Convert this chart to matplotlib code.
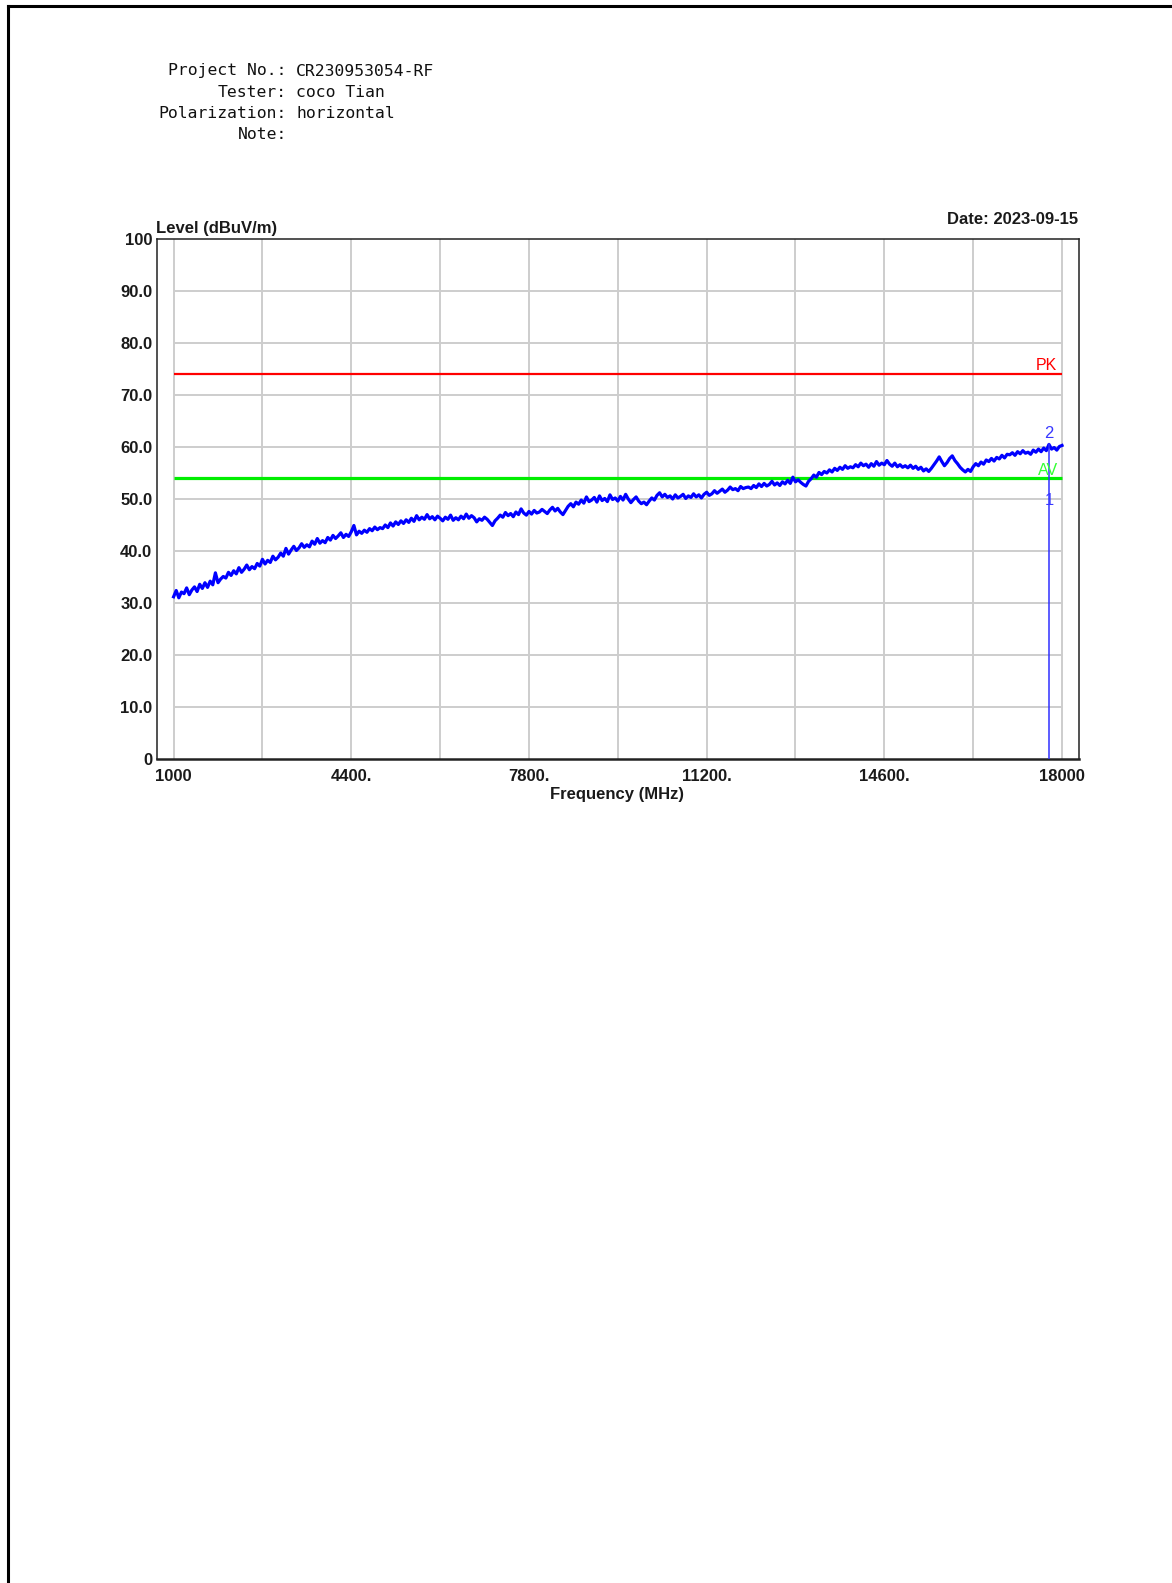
import matplotlib
matplotlib.use("Agg")
import matplotlib.pyplot as plt
from matplotlib.lines import Line2D
import numpy as np

W, H = 1172, 1583

# header info
header_keys = ["Project No.:", "Tester:", "Polarization:", "Note:"]
header_vals = ["CR230953054-RF", "coco Tian", "horizontal", ""]
date_text = "Date: 2023-09-15"

# sweep: 1000 .. 18000 MHz, one reading every 50 MHz
f_start, f_stop, f_step = 1000, 18000, 50
level = [
    31.2, 32.4, 31.0, 32.1, 31.8, 32.9, 31.6, 32.5, 33.1, 32.2, 33.6, 32.8, 33.9, 33.0, 34.2, 33.5, 35.8, 33.9, 34.6, 35.1,
    34.8, 35.9, 35.3, 36.2, 35.6, 36.8, 35.9, 36.5, 37.3, 36.4, 37.0, 36.6, 37.6, 37.1, 38.4, 37.5, 38.2, 37.8, 39.0, 38.3,
    38.8, 39.6, 39.0, 40.5, 39.4, 40.2, 40.9, 40.1, 40.6, 41.4, 40.7, 41.2, 40.8, 41.9, 41.3, 42.4, 41.5, 42.0, 41.6, 42.6,
    42.1, 43.0, 42.4, 42.9, 43.5, 42.6, 43.2, 42.8, 43.7, 44.9, 43.1, 43.8, 43.4, 44.0, 43.6, 44.3, 43.9, 44.6, 44.1, 44.5,
    44.3, 45.0, 44.5, 45.4, 44.8, 45.6, 45.1, 45.8, 45.3, 46.0, 45.5, 46.3, 45.7, 46.8, 46.0, 46.5, 46.1, 47.0, 46.2, 46.6,
    46.0, 46.7, 46.3, 45.8, 46.5, 46.1, 46.9, 45.9, 46.4, 46.0, 46.7, 46.2, 47.1, 46.3, 46.8, 46.4, 45.6, 46.2, 45.9, 46.5,
    46.1, 45.5, 44.9, 45.8, 46.3, 46.9, 46.5, 47.4, 46.8, 47.2, 46.6, 47.5, 47.0, 48.1, 47.3, 46.9, 47.6, 47.1, 47.8, 47.3,
    47.5, 48.0, 47.6, 47.2, 47.9, 48.4, 47.7, 48.2, 47.5, 47.0, 47.8, 48.6, 49.1, 48.5, 49.4, 49.0, 49.8, 49.2, 50.4, 49.5,
    49.8, 50.3, 49.4, 50.6, 49.7, 50.1, 49.5, 50.8, 49.9, 50.2, 49.6, 50.5, 49.8, 50.9, 50.0, 49.3, 49.9, 50.4, 49.6, 49.1,
    49.4, 48.9, 49.6, 50.2, 49.8, 50.7, 51.2, 50.4, 50.9, 50.3, 50.6, 50.0, 50.8, 50.2, 50.5, 50.9, 50.1, 50.6, 50.3, 51.0,
    50.4, 50.8, 50.2, 50.9, 51.3, 50.7, 51.0, 51.6, 51.1, 51.5, 51.9, 51.3, 51.7, 52.3, 51.8, 52.0, 51.6, 52.4, 52.0, 52.2,
    52.3, 52.0, 52.6, 52.2, 52.9, 52.4, 53.0, 52.5, 52.8, 53.4, 52.7, 53.1, 52.6, 53.3, 52.9, 53.6, 53.0, 54.2, 53.3, 53.7,
    53.2, 52.8, 52.5, 53.4, 53.9, 54.6, 54.2, 55.1, 54.7, 55.3, 55.0, 55.6, 55.2, 55.9, 55.5, 56.1, 55.7, 56.4, 55.9, 56.2,
    56.0, 56.6, 56.2, 56.9, 56.4, 56.7, 56.1, 56.8, 56.3, 57.2, 56.5, 56.9, 56.6, 57.4, 56.7, 56.3, 56.9, 56.2, 56.6, 56.1,
    56.4, 56.0, 56.5, 55.9, 56.3, 55.7, 56.1, 55.4, 55.8, 55.3, 55.9, 56.6, 57.3, 58.1, 57.2, 56.4, 57.0, 57.8, 58.3, 57.4,
    56.8, 56.1, 55.6, 55.2, 55.7, 55.3, 56.2, 56.8, 56.4, 57.1, 56.7, 57.5, 57.2, 57.8, 57.3, 58.0, 57.7, 58.4, 57.9, 58.6,
    58.5, 58.9, 58.4, 59.1, 58.7, 59.3, 58.8, 59.0, 58.6, 59.4, 59.0, 59.6, 59.1, 59.8, 59.3, 60.5, 59.6, 59.9, 59.4, 60.1,
    60.3,
]
freq = np.arange(f_start, f_stop + 1, f_step)

# limits
pk_limit = 74.0
av_limit = 54.0

# markers
marker_ids = ["1", "2"]
marker_freq = [17750, 17750]
marker_level = [48.0, 60.8]

x_ticks = [1000, 4400, 7800, 11200, 14600, 18000]
x_ticklabels = ["1000", "4400.", "7800.", "11200.", "14600.", "18000"]
x_grid = np.arange(1000, 18001, 1700)
y_ticks = [0, 10, 20, 30, 40, 50, 60, 70, 80, 90, 100]
y_ticklabels = ["0", "10.0", "20.0", "30.0", "40.0", "50.0", "60.0", "70.0", "80.0", "90.0", "100"]


def fx(px):
    return px / W


def fy(py):
    return 1 - py / H


fig = plt.figure(figsize=(W / 100, H / 100), dpi=100)
fig.patch.set_facecolor("white")

# page border (left and top only)
fig.add_artist(Line2D([fx(8), fx(8)], [fy(6), 0], color="black", lw=2.2))
fig.add_artist(Line2D([fx(8), 1], [fy(6), fy(6)], color="black", lw=2.2))

# header block
mono = "DejaVu Sans Mono"
for i, (k, v) in enumerate(zip(header_keys, header_vals)):
    y = fy(71 + i * 21.2)
    fig.text(fx(287), y, k, ha="right", va="center", family=mono, fontsize=11.8, color="#111111")
    fig.text(fx(296), y, v, ha="left", va="center", family=mono, fontsize=11.8, color="#111111")

# plot area
ax = fig.add_axes([fx(156.5), fy(759), fx(1079) - fx(156.5), fy(239) - fy(759)])
ax.set_xlim(673, 18325)
ax.set_ylim(0, 100)

for xg in x_grid:
    ax.axvline(xg, color="#cdcdcd", lw=1.4, zorder=1)
ax.hlines(y_ticks[1:-1], f_start, f_stop, color="#cdcdcd", lw=1.4, zorder=1)

ax.hlines(pk_limit, f_start, f_stop, color="#ff0000", lw=1.6, zorder=3)
ax.hlines(av_limit, f_start, f_stop, color="#00ee00", lw=2.3, zorder=3)

ax.plot(freq, level, color="#0000ff", lw=2.3, zorder=4)

# marker line down to the floor
ax.vlines(marker_freq[1], 0, marker_level[1], color="#3030ff", lw=1.1, zorder=5)
ax.text(marker_freq[0], marker_level[0] + 1.8, marker_ids[0], color="#3838ff", fontsize=12,
        ha="center", va="center", family="Liberation Sans", zorder=6)
ax.text(marker_freq[1], marker_level[1] + 1.8, marker_ids[1], color="#3838ff", fontsize=12,
        ha="center", va="center", family="Liberation Sans", zorder=6)

ax.text(17900, pk_limit + 0.3, "PK", color="#ff0000", fontsize=11.5, ha="right", va="bottom",
        family="Liberation Sans", zorder=6)
ax.text(17930, av_limit + 0.0, "AV", color="#33ff33", fontsize=11.5, ha="right", va="bottom",
        family="Liberation Sans", zorder=6)

for side in ["left", "right", "top"]:
    ax.spines[side].set_linewidth(1.1)
ax.spines["bottom"].set_linewidth(1.8)
for s in ax.spines.values():
    s.set_color("#222222")

ax.set_xticks(x_ticks)
ax.set_xticklabels(x_ticklabels)
ax.set_yticks(y_ticks)
ax.set_yticklabels(y_ticklabels)
ax.tick_params(axis="y", length=0, pad=3)
ax.tick_params(axis="x", length=0, pad=7)
for lab in ax.get_xticklabels() + ax.get_yticklabels():
    lab.set_fontfamily("Liberation Sans")
    lab.set_fontweight("bold")
    lab.set_fontsize(12)
    lab.set_color("#1a1a1a")

fig.text(fx(156), fy(229), "Level (dBuV/m)", ha="left", va="center", family="Liberation Sans",
         fontweight="bold", fontsize=12, color="#1a1a1a")
fig.text(fx(1078), fy(220), date_text, ha="right", va="center", family="Liberation Sans",
         fontweight="bold", fontsize=12, color="#1a1a1a")
fig.text(fx(617), fy(794), "Frequency (MHz)", ha="center", va="center", family="Liberation Sans",
         fontweight="bold", fontsize=12, color="#1a1a1a")

fig.savefig("out.png", dpi=100, facecolor="white")
